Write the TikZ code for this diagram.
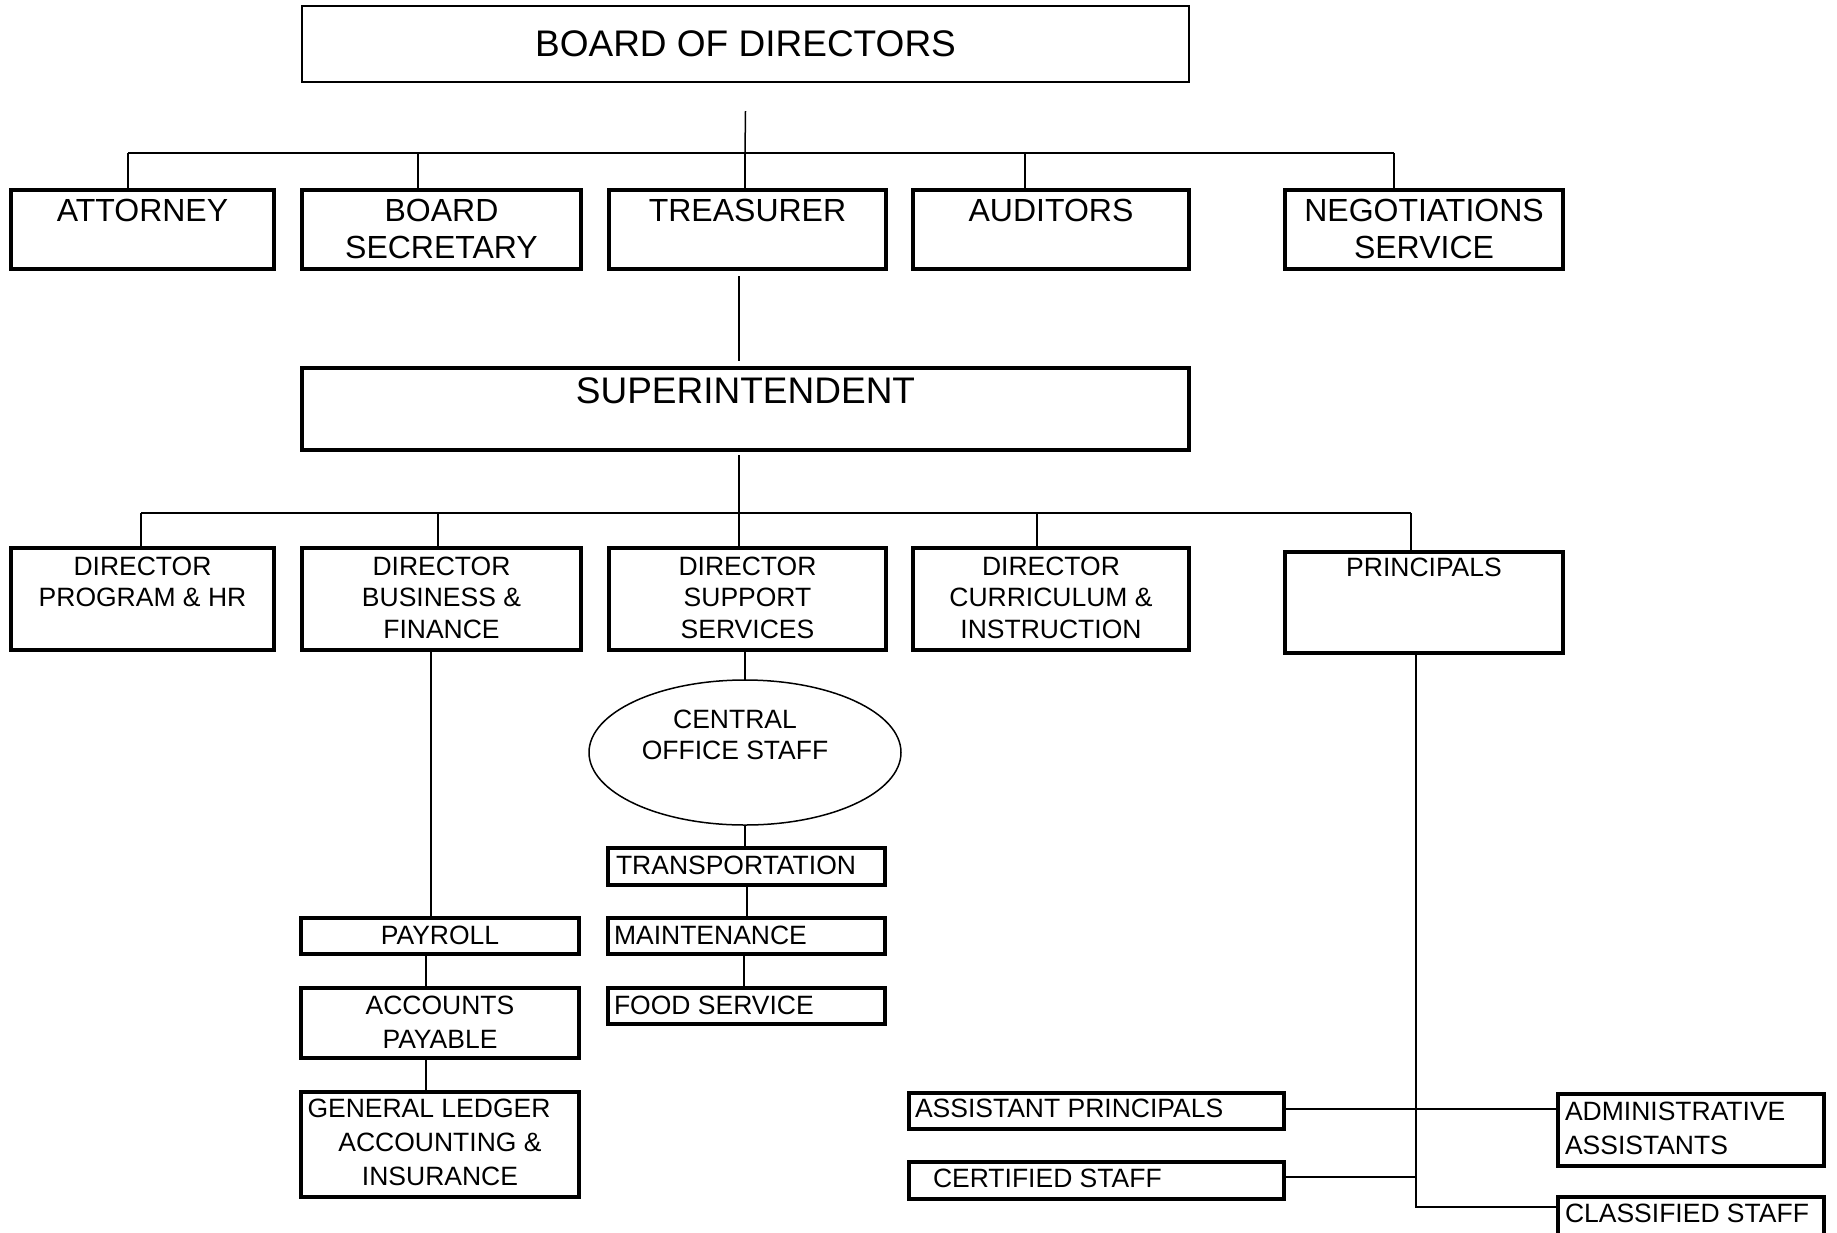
\documentclass[tikz,border=0pt]{standalone}
\usepackage{fontspec}
\setmainfont{Liberation Sans}
\usetikzlibrary{shapes.geometric}
\begin{document}
\begin{tikzpicture}[x=1pt,y=-1pt,
  every node/.style={inner sep=0pt, outer sep=0pt},
  box/.style={draw, line width=3.4pt, rectangle},
  thinbox/.style={draw, line width=2.2pt, rectangle},
  sbox/.style={draw, line width=3.8pt, rectangle},
  conn/.style={line width=1.5pt},
  big/.style={font=\fontsize{37}{44}\selectfont},
  mid/.style={font=\fontsize{32}{37.5}\selectfont, align=center},
  small/.style={font=\fontsize{26.5}{31.5}\selectfont, align=center},
  sleft/.style={font=\fontsize{26.5}{34}\selectfont, align=left},
]
\useasboundingbox (0,0) rectangle (1837,1232);
\clip (0,0) rectangle (1837,1232);
\fill[white] (0,0) rectangle (1837,1232);

% Board
\node[thinbox, minimum width=887, minimum height=76] (board) at (745.5,44) {};
\node[big] (tboard) at (board.center) {BOARD OF DIRECTORS};

% Row 1
\node[box, minimum width=263, minimum height=79] (att) at (142.5,229.5) {};
\node[box, minimum width=279, minimum height=79] (bsec) at (441.5,229.5) {};
\node[box, minimum width=277, minimum height=79] (treas) at (747.5,229.5) {};
\node[box, minimum width=276, minimum height=79] (aud) at (1051,229.5) {};
\node[box, minimum width=278, minimum height=79] (neg) at (1424,229.5) {};
\node[mid, anchor=north] (tatt) at ([yshift=-9pt]att.north) {ATTORNEY};
\node[mid, anchor=north] (tbsec) at ([yshift=-9pt]bsec.north) {BOARD\\SECRETARY};
\node[mid, anchor=north] (ttreas) at ([yshift=-9pt]treas.north) {TREASURER};
\node[mid, anchor=north] (taud) at ([yshift=-9pt]aud.north) {AUDITORS};
\node[mid, anchor=north] (tneg) at ([yshift=-9pt]neg.north) {NEGOTIATIONS\\SERVICE};

% Superintendent
\node[box, minimum width=887, minimum height=82] (sup) at (745.5,409) {};
\node[big, anchor=north] (tsup) at ([yshift=-10pt]sup.north) {SUPERINTENDENT};

% Row 2
\node[box, minimum width=263, minimum height=102] (dprog) at (142.5,599) {};
\node[box, minimum width=279, minimum height=102] (dbus) at (441.5,599) {};
\node[box, minimum width=277, minimum height=102] (dsup) at (747.5,599) {};
\node[box, minimum width=276, minimum height=102] (dcur) at (1051,599) {};
\node[box, minimum width=278, minimum height=101] (prin) at (1424,602.5) {};
\node[small, anchor=north] (tdprog) at ([yshift=-8.5pt]dprog.north) {DIRECTOR\\PROGRAM \& HR};
\node[small, anchor=north] (tdbus) at ([yshift=-8.5pt]dbus.north) {DIRECTOR\\BUSINESS \&\\FINANCE};
\node[small, anchor=north] (tdsup) at ([yshift=-8.5pt]dsup.north) {DIRECTOR\\SUPPORT\\SERVICES};
\node[small, anchor=north] (tdcur) at ([yshift=-8.5pt]dcur.north) {DIRECTOR\\CURRICULUM \&\\INSTRUCTION};
\node[small, anchor=north] (tprin) at ([yshift=-6pt]prin.north) {PRINCIPALS};

% Central office staff
\node[draw, ellipse, line width=1.5pt, minimum width=312, minimum height=145] (cos) at (745,752.5) {};
\node[small] (tcos) at (735,735) {CENTRAL\\OFFICE STAFF};

% Support services column
\node[sbox, minimum width=277, minimum height=37] (trans) at (746.5,866.5) {};
\node[sbox, minimum width=277, minimum height=36] (maint) at (746.5,936) {};
\node[sbox, minimum width=277, minimum height=36] (food) at (746.5,1006) {};
\node[small, anchor=west] (ttrans) at ([xshift=8pt,yshift=1pt]trans.west) {TRANSPORTATION};
\node[small, anchor=west] (tmaint) at ([xshift=6pt,yshift=1pt]maint.west) {MAINTENANCE};
\node[small, anchor=west] (tfood) at ([xshift=6pt,yshift=1pt]food.west) {FOOD SERVICE};

% Business column
\node[sbox, minimum width=278, minimum height=36] (pay) at (440,936) {};
\node[sbox, minimum width=278, minimum height=70] (ap) at (440,1023) {};
\node[sbox, minimum width=278, minimum height=105] (gl) at (440,1144.5) {};
\node[small] (tpay) at ([yshift=1pt]pay.center) {PAYROLL};
\node[font=\fontsize{26.5}{34}\selectfont, align=center] (tap) at ([yshift=1pt]ap.center) {ACCOUNTS\\PAYABLE};
\node[font=\fontsize{26.5}{34}\selectfont, align=center] (tgl) at ([yshift=2pt]gl.center) {GENERAL LEDGER\hspace*{22pt}\\ACCOUNTING \&\\INSURANCE};

% Principals column
\node[sbox, minimum width=375, minimum height=36] (asst) at (1096.5,1111) {};
\node[sbox, minimum width=375, minimum height=37] (cert) at (1096.5,1180.5) {};
\node[sbox, minimum width=266, minimum height=72] (adm) at (1691,1130) {};
\node[sbox, minimum width=266, minimum height=56] (cls) at (1691,1225) {};
\node[small, anchor=west] (tasst) at ([xshift=6pt,yshift=3pt]asst.west) {ASSISTANT PRINCIPALS};
\node[small, anchor=west] (tcert) at ([xshift=24pt,yshift=2pt]cert.west) {CERTIFIED STAFF};
\node[font=\fontsize{26.5}{34}\selectfont, align=left, anchor=west] (tadm) at ([xshift=7pt,yshift=2pt]adm.west) {ADMINISTRATIVE\\ASSISTANTS};
\node[small, anchor=north west] (tcls) at ([xshift=7pt,yshift=-7pt]cls.north west) {CLASSIFIED STAFF};

% Connectors: board level
\coordinate (b0) at (745,153);
\coordinate (bA) at (128,153);
\coordinate (bB) at (418,153);
\coordinate (bT) at (745,153);
\coordinate (bU) at (1025,153);
\coordinate (bN) at (1394,153);
\draw[conn] ([yshift=-29pt]board.south) -- (b0);
\draw[conn] (bA) -- (bN);
\draw[conn] (bA) -- (bA |- att.north);
\draw[conn] (bB) -- (bB |- bsec.north);
\draw[conn] (bT) -- (bT |- treas.north);
\draw[conn] (bU) -- (bU |- aud.north);
\draw[conn] (bN) -- (bN |- neg.north);
\draw[conn] ([xshift=-8.5pt,yshift=-7pt]treas.south) -- ([xshift=-6.5pt,yshift=7pt]sup.north);

% Superintendent level
\coordinate (s0) at (739,513);
\coordinate (sA) at (141,513);
\coordinate (sB) at (438,513);
\coordinate (sU) at (1037,513);
\coordinate (sP) at (1411,513);
\draw[conn] ([xshift=-6.5pt,yshift=-5pt]sup.south) -- (s0);
\draw[conn] (sA) -- (sP);
\draw[conn] (sA) -- (sA |- dprog.north);
\draw[conn] (sB) -- (sB |- dbus.north);
\draw[conn] (s0) -- (s0 |- dsup.north);
\draw[conn] (sU) -- (sU |- dcur.north);
\draw[conn] (sP) -- (sP |- prin.north);

% Support services chain
\draw[conn] (dsup.south -| cos.north) -- (cos.north);
\draw[conn] (cos.south) -- (cos.south |- trans.north);
\draw[conn] ([xshift=0.5pt]trans.south) -- ([xshift=0.5pt]maint.north);
\draw[conn] ([xshift=-2.5pt]maint.south) -- ([xshift=-2.5pt]food.north);

% Business chain
\coordinate (bz) at (431,0);
\draw[conn] (dbus.south -| bz) -- (pay.north -| bz);
\coordinate (bq) at (426,0);
\draw[conn] (pay.south -| bq) -- (ap.north -| bq);
\draw[conn] (ap.south -| bq) -- (gl.north -| bq);

% Principals chain
\coordinate (pv) at (1416,1207);
\draw[conn] (prin.south -| pv) -- (pv) -- (pv -| cls.west);
\draw[conn] ([yshift=2pt]asst.east) -- ([yshift=2pt]asst.east -| adm.west);
\draw[conn] ([yshift=3.5pt]cert.east) -- ([yshift=3.5pt]cert.east -| pv);
\end{tikzpicture}
\end{document}
